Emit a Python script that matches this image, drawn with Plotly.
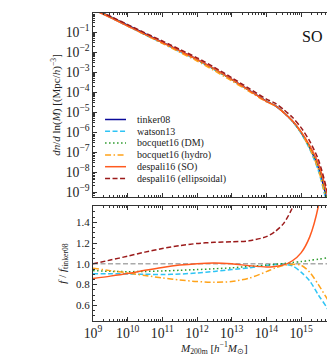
import plotly.graph_objects as go
from plotly.subplots import make_subplots

# ---- data ----
log_mass = [9.0, 9.5, 10.0, 10.5, 11.0, 11.5, 12.0, 12.5, 13.0, 13.5, 14.0,
            14.25, 14.5, 14.75, 15.0, 15.25, 15.5, 15.75, 15.95]
# log10 of dn/dlnM for tinker08
tinker08_log_dn = [0.20, -0.22, -0.65, -1.08, -1.50, -1.93, -2.36, -2.84, -3.36, -3.90, -4.45,
                   -4.67, -5.02, -5.45, -6.02, -6.78, -7.78, -9.40, -11.0]
# ratios f / f_tinker08
ratio_watson13 = [0.906, 0.905, 0.903, 0.900, 0.898, 0.902, 0.912, 0.927, 0.945, 0.962, 0.985,
                  0.993, 0.995, 0.980, 0.920, 0.835, 0.700, 0.575, 0.440]
ratio_bocquet_dm = [0.935, 0.928, 0.925, 0.927, 0.932, 0.938, 0.945, 0.953, 0.962, 0.975, 0.988,
                    0.995, 1.003, 1.013, 1.022, 1.033, 1.045, 1.057, 1.067]
ratio_bocquet_hydro = [0.958, 0.935, 0.913, 0.888, 0.865, 0.845, 0.830, 0.823, 0.830, 0.862, 0.925,
                       0.960, 0.985, 0.995, 0.987, 0.920, 0.800, 0.665, 0.550]
ratio_despali_so = [0.860, 0.882, 0.907, 0.938, 0.966, 0.988, 1.002, 1.008, 1.000, 0.983, 0.970,
                    0.975, 0.990, 1.030, 1.106, 1.260, 1.556, 2.100, 2.800]
ratio_despali_ell = [1.000, 1.037, 1.074, 1.113, 1.148, 1.175, 1.196, 1.207, 1.212, 1.222, 1.262,
                     1.310, 1.390, 1.540, 1.750, 2.100, 2.500, 3.000, 3.500]

series_names = ["tinker08", "watson13", "bocquet16 (DM)", "bocquet16 (hydro)",
                "despali16 (SO)", "despali16 (ellipsoidal)"]
series_ratios = [None, ratio_watson13, ratio_bocquet_dm, ratio_bocquet_hydro,
                 ratio_despali_so, ratio_despali_ell]
colors = ["#0a0a9a", "#2ec4f5", "#2a9a2a", "#ffa31a", "#ff5a1f", "#9b1a1a"]
dashes = ["solid", "5px,2.5px", "1.5px,2.5px", "6px,2.5px,1.5px,2.5px", "solid", "5px,2.5px"]

mass = [10 ** v for v in log_mass]
tinker = [10 ** v for v in tinker08_log_dn]

FONT = "Liberation Serif"

fig = make_subplots(rows=2, cols=1, shared_xaxes=False, vertical_spacing=0.0)

for name, ratio, col, dsh in zip(series_names, series_ratios, colors, dashes):
    if ratio is None:
        yv = tinker
    else:
        yv = [t * r for t, r in zip(tinker, ratio)]
    fig.add_trace(go.Scatter(x=mass, y=yv, mode="lines", name=name, showlegend=False,
                             line=dict(color=col, width=1.5, dash=dsh, shape="spline", smoothing=0.8)),
                  row=1, col=1)
    if ratio is not None:
        fig.add_trace(go.Scatter(x=mass, y=ratio, mode="lines", name=name, showlegend=False,
                                 line=dict(color=col, width=1.5, dash=dsh, shape="spline", smoothing=0.8)),
                      row=2, col=1)

fig.add_shape(type="line", xref="x2 domain", yref="y2", x0=0, x1=1, y0=1.0, y1=1.0,
              line=dict(color="#aaaaaa", width=1.5, dash="5px,2.5px"), layer="below")

# manual legend
top_px, bot_px = 5, 189
rows_px = [111.5, 123.3, 135.1, 146.9, 158.7, 170.5]
for name, col, dsh, ypx in zip(series_names, colors, dashes, rows_px):
    yf = (bot_px - ypx) / (bot_px - top_px)
    fig.add_shape(type="line", xref="x domain", yref="y domain", x0=0.05, x1=0.137, y0=yf, y1=yf,
                  line=dict(color=col, width=1.5, dash=dsh))
    fig.add_annotation(xref="x domain", yref="y domain", x=0.175, y=yf, text=name, showarrow=False,
                       xanchor="left", yanchor="middle", font=dict(family=FONT, size=10, color="#222"))

fig.add_annotation(xref="x domain", yref="y domain", x=0.96, y=0.87, text="SO", showarrow=False,
                   xanchor="right", yanchor="middle", font=dict(family=FONT, size=16, color="#111"))

# x title as annotation (kept inside the page)
fig.add_annotation(xref="paper", yref="paper", x=0.5, y=-(340 - 313) / 308.0,
                   text="<i>M</i><sub>200m</sub> [<i>h</i><sup>−1</sup><i>M</i><sub>⊙</sub>]",
                   showarrow=False, xanchor="center", yanchor="middle",
                   font=dict(family=FONT, size=11, color="#222"))

axis_common = dict(showline=True, linecolor="#333", linewidth=1.2, mirror="ticks",
                   ticks="inside", ticklen=4, tickcolor="#333", tickwidth=1, showgrid=False,
                   zeroline=False, tickfont=dict(family=FONT, size=11, color="#222"))

fig.update_xaxes(type="log", range=[9, 15.95], dtick=1, exponentformat="power",
                 minor=dict(ticks="inside", ticklen=2, tickcolor="#333", dtick="D1", showgrid=False),
                 **axis_common)
fig.update_xaxes(showticklabels=False, row=1, col=1)

fig.update_yaxes(type="log", range=[-9.25, -0.04], dtick=1, exponentformat="power",
                 minor=dict(ticks="inside", ticklen=2, tickcolor="#333", dtick="D1", showgrid=False),
                 title=dict(text="<i>dn</i>/<i>d</i> ln(<i>M</i>) [(Mpc/<i>h</i>)<sup>−3</sup>]",
                            font=dict(family=FONT, size=11, color="#222"), standoff=2),
                 row=1, col=1, **axis_common)
fig.update_yaxes(range=[0.45, 1.557], dtick=0.2, tick0=0, tickformat=".1f",
                 minor=dict(ticks="inside", ticklen=2, tickcolor="#333", dtick=0.05, showgrid=False),
                 title=dict(text="<i>f</i> / <i>f</i><sub>tinker08</sub>",
                            font=dict(family=FONT, size=11, color="#222"), standoff=7),
                 row=2, col=1, **axis_common)

H = 308.0
fig.update_layout(
    width=335, height=357,
    margin=dict(l=85, r=9, t=5, b=44),
    plot_bgcolor="white", paper_bgcolor="white",
    showlegend=False,
)
fig.layout.yaxis.domain = [(313 - 189) / H, 1.0]
fig.layout.yaxis2.domain = [0.0, (313 - 198) / H]

fig.write_html("out.html")
